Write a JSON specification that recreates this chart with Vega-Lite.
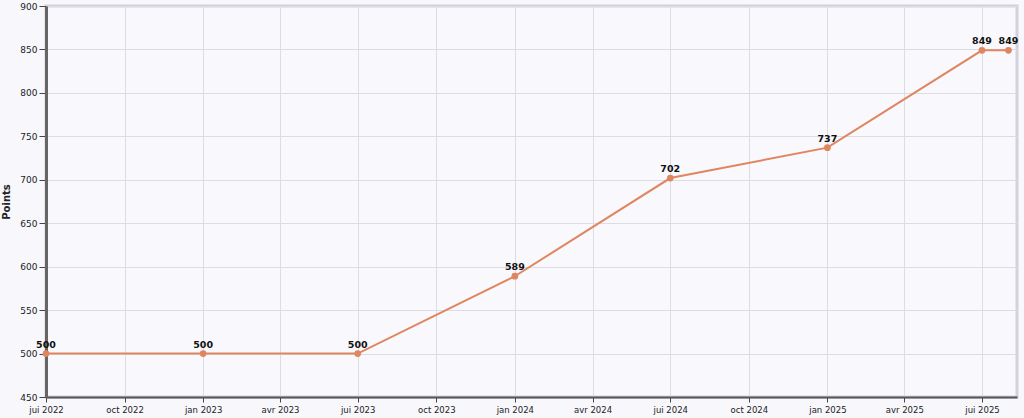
{
  "$schema": "https://vega.github.io/schema/vega-lite/v6.json",
  "autosize": {"type": "none"},
  "width": 971,
  "height": 391,
  "padding": {"left": 46, "top": 6, "right": 7, "bottom": 21},
  "background": "#f7f7fc",
  "config": {
    "font": "DejaVu Sans",
    "view": {"stroke": "#d2d2da", "strokeWidth": 3, "fill": "#f8f8fd"}
  },
  "data": {
    "values": [
      {"date": "2022-07-01T00:00:00", "points": 500},
      {"date": "2023-01-01T00:00:00", "points": 500},
      {"date": "2023-07-01T00:00:00", "points": 500},
      {"date": "2024-01-01T00:00:00", "points": 589},
      {"date": "2024-07-01T00:00:00", "points": 702},
      {"date": "2025-01-01T00:00:00", "points": 737},
      {"date": "2025-07-01T00:00:00", "points": 849},
      {"date": "2025-08-01T00:00:00", "points": 849}
    ]
  },
  "encoding": {
    "x": {
      "field": "date",
      "type": "temporal",
      "scale": {"domain": [{"year": 2022, "month": 7, "date": 1}, {"year": 2025, "month": 8, "date": 11}]},
      "axis": {
        "title": null,
        "tickCount": {"interval": "month", "step": 3},
        "labelExpr": "['jan','fév','mar','avr','mai','jui','jui','aoû','sep','oct','nov','déc'][month(datum.value)] + ' ' + year(datum.value)",
        "labelFlush": false,
        "labelOverlap": false,
        "labelFontSize": 8.5,
        "labelColor": "#222",
        "labelPadding": 3,
        "tickSize": 5,
        "tickColor": "#444",
        "domainColor": "#555",
        "domainWidth": 2,
        "gridColor": "#dcdce2",
        "gridWidth": 1
      }
    },
    "y": {
      "field": "points",
      "type": "quantitative",
      "scale": {"domain": [450, 900]},
      "axis": {
        "title": "Points",
        "titleFontSize": 10,
        "titleFontWeight": "bold",
        "titleColor": "#222",
        "titlePadding": 8,
        "values": [450, 500, 550, 600, 650, 700, 750, 800, 850, 900],
        "labelFlush": false,
        "labelFontSize": 9,
        "labelColor": "#222",
        "tickSize": 7,
        "tickColor": "#444",
        "domainColor": "#666",
        "domainWidth": 3,
        "gridColor": "#dcdce2",
        "gridWidth": 1
      }
    }
  },
  "layer": [
    {"mark": {"type": "line", "color": "#e0865f", "strokeWidth": 2}},
    {"mark": {"type": "point", "filled": true, "color": "#e0865f", "size": 45, "opacity": 1}},
    {
      "mark": {"type": "text", "dy": -9, "fontSize": 9.5, "fontWeight": "bold", "color": "#111"},
      "encoding": {"text": {"field": "points", "type": "quantitative"}}
    }
  ]
}
